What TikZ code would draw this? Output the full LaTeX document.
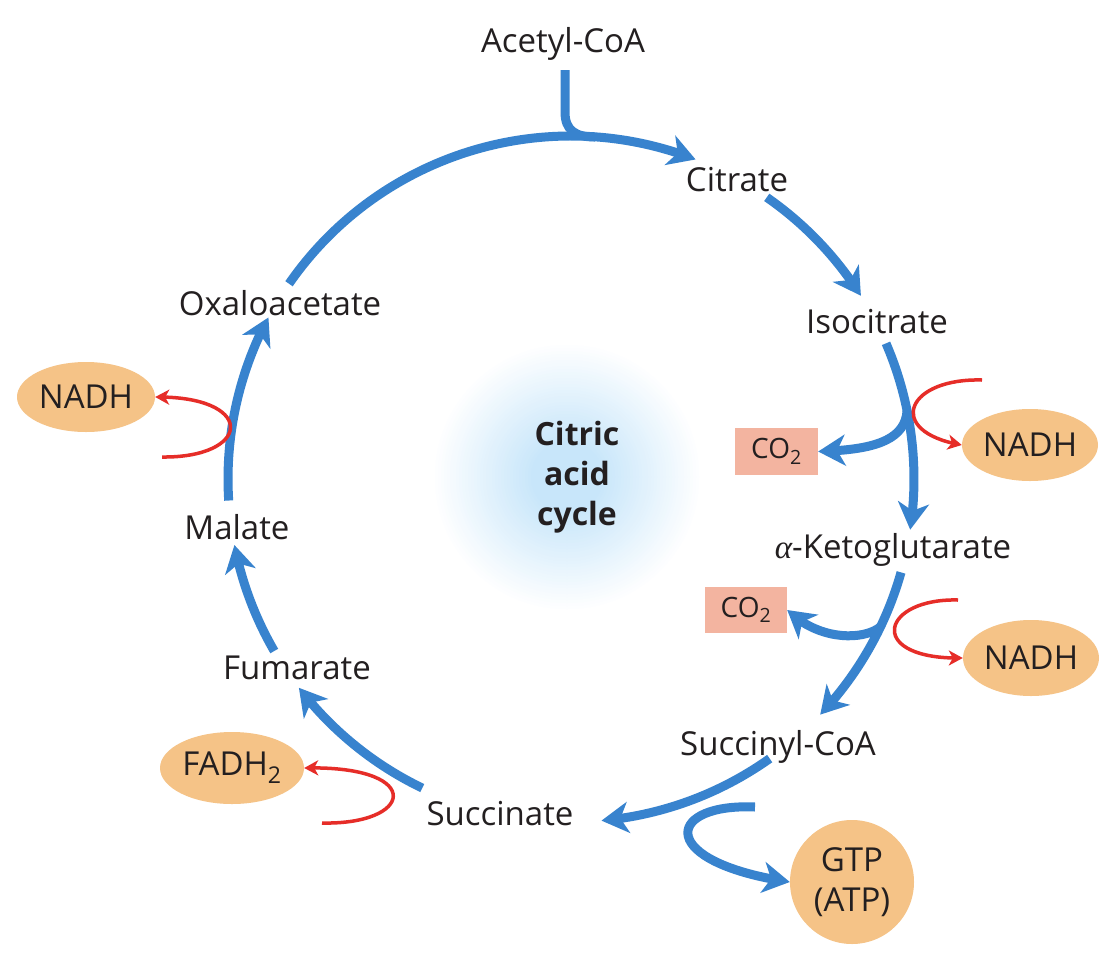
\documentclass[tikz,border=0pt]{standalone}
\usepackage{fontspec}
\setmainfont{Open Sans}
\newfontfamily\serifit{Liberation Serif}
\usetikzlibrary{arrows.meta,bending,calc,shapes.geometric}
\definecolor{cblue}{RGB}{56,131,206}
\definecolor{cred}{RGB}{230,45,40}
\definecolor{corange}{RGB}{245,195,135}
\definecolor{csalmon}{RGB}{243,180,160}
\definecolor{ctext}{RGB}{35,31,32}
\definecolor{glowc}{RGB}{200,230,250}
\tikzset{
 lbl/.style={text=ctext,font=\fontsize{33}{39}\selectfont,inner sep=0pt,anchor=base},
 cyc/.style={draw=cblue,line width=9pt,-{Stealth[length=27pt,width=31pt,inset=8pt,flex]}},
 bline/.style={draw=cblue,line width=9pt},
 redarr/.style={draw=cred,line width=3.5pt,-{Stealth[length=14pt,width=15pt,inset=4pt]}},
 oval/.style={ellipse,fill=corange,text=ctext,font=\fontsize{33}{39}\selectfont,inner sep=0pt},
 co2box/.style={rectangle,fill=csalmon,text=ctext,font=\fontsize{28}{32}\selectfont,inner sep=0pt,minimum width=83pt,minimum height=47pt},
}
\begin{document}
\begin{tikzpicture}[x=1pt,y=-1pt]
\useasboundingbox[fill=white] (0,0) rectangle (1120,954);
% glow
\foreach \r in {135,132,...,1}{
  \pgfmathsetmacro\p{max(0,min(100,(135-\r)*1.0))}
  \fill[glowc!\p!white] (567,477) circle (\r);
}
% labels
\node[lbl] (acetyl) at (563,52) {Acetyl-CoA};
\node[lbl] (citrate) at (737,191) {Citrate};
\node[lbl] (isocitrate) at (877,333) {Isocitrate};
\node[lbl] (akg) at (893,558) {{\serifit\itshape α}-Ketoglutarate};
\node[lbl] (succoa) at (778,755) {Succinyl-CoA};
\node[lbl] (succinate) at (500,825) {Succinate};
\node[lbl] (fumarate) at (297,679) {Fumarate};
\node[lbl] (malate) at (237,539) {Malate};
\node[lbl] (oxalo) at (280,315) {Oxaloacetate};
\node[text=ctext,font=\bfseries\fontsize{32}{40}\selectfont,align=center,inner sep=0pt] (cycle) at (577,477) {Citric\\acid\\cycle};
% products
\node[oval,minimum width=136pt,minimum height=72pt] (nadh1) at (1030,445) {NADH};
\node[oval,minimum width=136pt,minimum height=76pt] (nadh2) at (1031,658) {NADH};
\node[oval,minimum width=138pt,minimum height=70pt] (nadh3) at (86,397) {NADH};
\node[oval,minimum width=144pt,minimum height=72pt] (fadh) at (232,768) {FADH\textsubscript{2}};
\node[circle,fill=corange,text=ctext,font=\fontsize{33}{40}\selectfont,align=center,inner sep=0pt,minimum size=124pt] (gtp) at (852,882) {GTP\\(ATP)};
\node[co2box] (co2a) at (776.5,451.5) {CO\textsubscript{2}};
\node[co2box,minimum width=82pt,minimum height=46pt] (co2b) at (746,610) {CO\textsubscript{2}};
% cycle
\coordinate (ctr) at (571,479);
\coordinate (acin) at (565,70);
\draw[bline] (acin) -- (565,112) .. controls (565,130) and (575,137) .. (595,137);
\draw[cyc] ($(ctr)+(-145.3:343)$) arc[start angle=-145.3,end angle=-68.7,radius=343];
\draw[cyc] ($(ctr)+(-55.2:343)$) arc[start angle=-55.2,end angle=-32.3,radius=343];
\draw[cyc] ($(ctr)+(-23.3:343)$) arc[start angle=-23.3,end angle=8.5,radius=343];
\draw[cyc] ($(ctr)+(15.8:343)$) arc[start angle=15.8,end angle=43.4,radius=343];
\draw[cyc] ($(ctr)+(54.6:343)$) arc[start angle=54.6,end angle=84.9,radius=343];
\draw[cyc] ($(ctr)+(115.7:343)$) arc[start angle=115.7,end angle=142.5,radius=343];
\draw[cyc] ($(ctr)+(149.9:343)$) arc[start angle=149.9,end angle=168.9,radius=343];
\draw[cyc] ($(ctr)+(176.4:343)$) arc[start angle=176.4,end angle=208.1,radius=343];
% side branches
\coordinate (ba) at ($(ctr)+(-11.5:343)$);
\coordinate (bb) at ($(ctr)+(25.5:343)$);
\draw[cyc] (ba) .. controls (905,442) and (870,450) .. (co2a.east);
\draw[cyc] (bb) .. controls (865,640) and (820,642) .. (co2b.east);
\coordinate (gtpin) at (755,807);
\draw[cyc] (gtpin) .. controls (665,803) and (655,862) .. (gtp.west);
% red arrows
\coordinate (r1) at (982,380);
\coordinate (r2) at (958,600);
\coordinate (r3) at (162,457);
\coordinate (r4) at (322,823);
\draw[redarr] (r1) .. controls (905,378) and (885,432) .. (nadh1.west);
\draw[redarr] (r2) .. controls (880,598) and (865,660) .. (nadh2.west);
\draw[redarr] (r3) .. controls (252,458) and (257,396) .. (nadh3.east);
\draw[redarr] (r4) .. controls (415,825) and (425,765) .. (fadh.east);
\end{tikzpicture}
\end{document}
